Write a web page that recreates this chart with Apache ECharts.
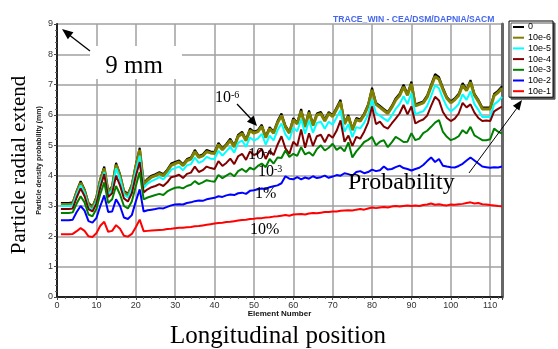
<!DOCTYPE html>
<html>
<head>
<meta charset="utf-8">
<script src="https://cdn.jsdelivr.net/npm/echarts@6/dist/echarts.min.js"></script>
<style>
html,body{margin:0;padding:0;background:#fff;}
#chart{width:558px;height:349px;}
</style>
</head>
<body>
<div id="chart"></div>
<script>
// Element numbers start at 1; one value per element (1..113)
const firstElement = 1;
const seriesNames = ['0', '10e-6', '10e-5', '10e-4', '10e-3', '10e-2', '10e-1'];
const seriesColors = ['#000000', '#808000', '#00ffff', '#800000', '#008000', '#0000ff', '#ff0000'];
const xTicks = [0, 10, 20, 30, 40, 50, 60, 70, 80, 90, 100, 110];
const yTicks = [0, 1, 2, 3, 4, 5, 6, 7, 8, 9];

const prob0 = [3.10,3.10,3.10,3.12,3.50,3.82,3.55,3.10,2.98,3.30,
 3.90,4.30,3.50,3.65,4.42,4.05,3.50,3.40,3.70,4.35,
 4.92,3.75,3.90,4.00,4.05,4.12,4.05,4.20,4.40,4.45,
 4.50,4.38,4.55,4.60,4.85,4.65,4.70,4.85,4.80,4.78,
 5.08,4.90,5.05,5.22,5.00,5.35,5.45,5.20,5.55,5.45,
 5.50,5.68,5.30,5.60,5.45,5.80,6.05,5.65,5.45,5.90,
 5.75,6.20,5.65,6.15,5.70,6.05,6.10,5.85,6.10,6.00,
 6.25,6.50,5.75,6.00,5.55,5.90,5.85,6.05,6.35,6.90,
 6.40,6.30,6.20,6.10,6.30,6.55,6.70,7.00,6.70,7.10,
 6.35,6.40,6.45,6.65,7.00,7.35,7.25,6.90,6.60,6.45,
 6.55,6.70,7.05,6.85,7.15,6.70,6.50,6.25,6.25,6.25,
 6.70,6.80,6.95];
const prob1e6 = [3.05,3.05,3.05,3.07,3.44,3.76,3.49,3.04,2.93,3.24,
 3.84,4.24,3.45,3.60,4.36,4.00,3.45,3.35,3.65,4.28,
 4.85,3.70,3.85,3.95,4.00,4.07,4.00,4.15,4.34,4.40,
 4.45,4.33,4.50,4.55,4.79,4.60,4.65,4.79,4.75,4.73,
 5.02,4.85,5.00,5.16,4.95,5.29,5.39,5.15,5.49,5.40,
 5.45,5.62,5.25,5.55,5.40,5.74,5.98,5.60,5.40,5.84,
 5.70,6.13,5.60,6.09,5.65,6.00,6.04,5.80,6.05,5.95,
 6.19,6.43,5.70,5.95,5.50,5.85,5.80,6.00,6.29,6.83,
 6.35,6.25,6.15,6.05,6.25,6.49,6.64,6.93,6.65,7.03,
 6.30,6.35,6.40,6.59,6.93,7.27,7.18,6.84,6.55,6.40,
 6.50,6.64,6.98,6.80,7.08,6.65,6.45,6.20,6.20,6.20,
 6.64,6.74,6.88];
const prob1e5 = [3.00,3.00,3.00,3.02,3.38,3.68,3.42,2.97,2.87,3.16,
 3.74,4.12,3.38,3.52,4.25,3.90,3.38,3.28,3.56,4.15,
 4.66,3.60,3.74,3.82,3.88,3.95,3.88,4.02,4.20,4.25,
 4.30,4.18,4.34,4.38,4.60,4.42,4.48,4.62,4.56,4.55,
 4.82,4.66,4.80,4.95,4.76,5.08,5.16,4.95,5.26,5.16,
 5.22,5.38,5.02,5.32,5.16,5.50,5.72,5.36,5.18,5.58,
 5.46,5.86,5.38,5.82,5.42,5.74,5.78,5.55,5.78,5.68,
 5.92,6.16,5.45,5.70,5.27,5.60,5.56,5.74,6.02,6.52,
 6.06,5.98,5.88,5.80,5.98,6.20,6.36,6.62,6.36,6.72,
 6.02,6.08,6.12,6.30,6.62,6.98,6.88,6.55,6.27,6.12,
 6.22,6.36,6.68,6.50,6.78,6.36,6.17,5.93,5.93,5.93,
 6.35,6.45,6.60];
const prob1e4 = [2.90,2.90,2.90,2.92,3.28,3.58,3.32,2.90,2.82,3.08,
 3.62,4.05,3.30,3.42,4.00,3.68,3.25,3.15,3.42,3.98,
 4.45,3.45,3.55,3.62,3.66,3.72,3.66,3.78,3.95,3.98,
 4.03,3.92,4.06,4.10,4.30,4.12,4.18,4.30,4.25,4.22,
 4.48,4.32,4.42,4.56,4.38,4.64,4.72,4.52,4.80,4.68,
 4.74,4.88,4.55,4.82,4.68,5.02,5.30,4.90,4.72,5.12,
 4.98,5.52,4.92,5.40,4.98,5.30,5.35,5.10,5.36,5.25,
 5.48,5.82,5.12,5.32,4.98,5.28,5.22,5.45,5.75,6.28,
 5.70,5.78,5.62,5.55,5.72,5.88,6.05,6.33,6.02,6.28,
 5.72,5.80,5.85,5.98,6.30,6.60,6.48,6.10,5.90,5.80,
 5.88,6.05,6.40,6.25,6.35,6.08,5.90,5.80,5.82,5.80,
 6.12,6.20,6.28];
const prob1e3 = [2.77,2.77,2.77,2.79,3.08,3.32,3.12,2.72,2.66,2.90,
 3.40,3.78,3.10,3.22,3.66,3.38,3.00,2.92,3.15,3.65,
 4.12,3.22,3.28,3.32,3.36,3.40,3.36,3.48,3.55,3.60,
 3.62,3.58,3.66,3.70,3.82,3.72,3.78,3.85,3.82,3.80,
 4.02,3.92,4.00,4.08,3.98,4.15,4.22,4.12,4.26,4.20,
 4.32,4.40,4.28,4.55,4.40,4.60,4.58,4.83,4.62,4.72,
 4.65,4.94,4.70,4.77,4.66,4.88,5.00,4.83,4.92,5.05,
 4.85,4.94,4.80,5.10,4.60,4.80,4.95,5.11,5.18,5.28,
 5.00,5.12,5.17,4.94,5.10,5.28,5.20,5.11,5.12,5.40,
 5.17,5.22,5.40,5.48,5.61,5.75,5.83,5.44,5.28,5.17,
 5.22,5.30,5.50,5.39,5.61,5.33,5.25,5.17,5.17,5.20,
 5.55,5.45,5.39];
const prob1e2 = [2.53,2.53,2.53,2.55,2.80,3.00,2.85,2.50,2.45,2.60,
 3.00,3.35,2.80,2.82,3.22,3.00,2.62,2.57,2.70,3.15,
 3.55,2.82,2.86,2.88,2.90,2.93,2.92,2.97,3.02,3.05,
 3.06,3.05,3.10,3.12,3.16,3.18,3.17,3.22,3.25,3.27,
 3.32,3.30,3.35,3.38,3.36,3.42,3.44,3.40,3.50,3.52,
 3.55,3.58,3.56,3.62,3.65,3.68,3.75,3.98,3.90,3.88,
 3.95,3.88,3.94,3.90,3.98,3.92,3.95,4.00,3.93,3.97,
 4.02,4.00,4.08,4.05,4.00,4.12,4.15,4.08,4.12,4.20,
 4.15,4.18,4.30,4.20,4.22,4.28,4.33,4.25,4.22,4.17,
 4.22,4.26,4.35,4.48,4.60,4.45,4.55,4.33,4.30,4.28,
 4.27,4.32,4.39,4.50,4.60,4.50,4.40,4.30,4.28,4.26,
 4.28,4.27,4.30];
const prob1e1 = [2.07,2.07,2.07,2.08,2.17,2.27,2.18,2.00,1.98,2.10,
 2.35,2.48,2.15,2.18,2.37,2.25,2.02,1.99,2.08,2.30,
 2.55,2.17,2.18,2.19,2.20,2.21,2.22,2.24,2.25,2.27,
 2.28,2.28,2.30,2.31,2.33,2.34,2.36,2.38,2.40,2.42,
 2.44,2.45,2.47,2.48,2.50,2.52,2.54,2.55,2.57,2.58,
 2.60,2.60,2.62,2.63,2.65,2.66,2.68,2.70,2.68,2.72,
 2.73,2.74,2.72,2.75,2.77,2.76,2.78,2.80,2.80,2.82,
 2.82,2.84,2.85,2.86,2.85,2.88,2.90,2.88,2.92,2.95,
 2.93,2.95,2.97,2.95,2.98,3.00,2.98,3.00,3.02,3.00,
 3.02,3.00,3.03,3.05,3.08,3.04,3.06,3.03,3.02,3.05,
 3.04,3.06,3.07,3.10,3.12,3.08,3.10,3.06,3.05,3.03,
 3.02,3.00,2.99];

const seriesValues = [prob0, prob1e6, prob1e5, prob1e4, prob1e3, prob1e2, prob1e1];
const lineWidths = [2, 3, 2, 2, 2, 2, 2];

const serif = '"Liberation Serif", "Times New Roman", serif';
const sans = 'Arial, "Liberation Sans", Helvetica, sans-serif';

const chart = echarts.init(document.getElementById('chart'), null, {renderer: 'canvas'});

const series = seriesNames.map((name, k) => ({
  name: name,
  type: 'line',
  data: seriesValues[k].map((v, i) => [firstElement + i, v]),
  showSymbol: false,
  symbol: 'none',
  color: seriesColors[k],
  lineStyle: {color: seriesColors[k], width: lineWidths[k]},
  emphasis: {disabled: true},
  animation: false,
  z: 3
}));

function arrowHead(tipX, tipY, fromX, fromY, len, half) {
  const dx = tipX - fromX, dy = tipY - fromY;
  const d = Math.sqrt(dx * dx + dy * dy);
  const ux = dx / d, uy = dy / d;
  const bx = tipX - ux * len, by = tipY - uy * len;
  return [[tipX, tipY], [bx - uy * half, by + ux * half], [bx + uy * half, by - ux * half]];
}

const supRich = {
  b: {fontSize: 16, fontFamily: serif, fill: '#000'},
  s: {fontSize: 10, fontFamily: serif, fill: '#000', verticalAlign: 'top'}
};

const option = {
  backgroundColor: '#ffffff',
  animation: false,
  grid: {left: 57, top: 24, right: 56, bottom: 52, containLabel: false},
  title: {
    text: 'TRACE_WIN - CEA/DSM/DAPNIA/SACM',
    left: 328, top: 10,
    textStyle: {fontSize: 8.6, fontWeight: 'bold', color: '#4466ee', fontFamily: sans}
  },
  legend: {
    data: seriesNames,
    orient: 'vertical',
    left: 509, top: 21,
    icon: 'rect',
    itemWidth: 11, itemHeight: 2,
    itemGap: 0.7,
    padding: [1, 2, 1, 4],
    backgroundColor: '#ffffff',
    borderColor: '#000000',
    borderWidth: 1,
    shadowColor: '#555555',
    shadowOffsetX: 2,
    shadowOffsetY: 2,
    shadowBlur: 0,
    selectedMode: false,
    textStyle: {fontSize: 9, color: '#000', fontFamily: sans, lineHeight: 10, padding: [0, 0, 0, -1]}
  },
  xAxis: {
    type: 'value',
    min: 0, max: 113, interval: 10,
    name: 'Element Number',
    nameLocation: 'middle',
    nameGap: 13,
    nameMoveOverlap: false,
    nameTextStyle: {fontSize: 8, fontWeight: 'bold', color: '#111', fontFamily: sans},
    axisLine: {show: true, onZero: false, lineStyle: {color: '#222', width: 2}},
    axisTick: {show: true, length: 3, lineStyle: {color: '#444'}},
    minorTick: {show: true, splitNumber: 5, length: 2, lineStyle: {color: '#666'}},
    axisLabel: {fontSize: 9, color: '#333', margin: 4, fontFamily: sans,
      formatter: function (v) { return xTicks.indexOf(v) >= 0 ? String(v) : ''; }},
    splitLine: {show: true, lineStyle: {color: '#a0a0a0', width: 1.5}}
  },
  yAxis: [{
    type: 'value',
    min: 0, max: 9, interval: 1,
    name: 'Particle density probability (mm)',
    nameLocation: 'middle',
    nameRotate: 90,
    nameGap: 14,
    nameMoveOverlap: false,
    nameTextStyle: {fontSize: 7, fontWeight: 'bold', color: '#222', fontFamily: sans},
    axisLine: {show: true, onZero: false, lineStyle: {color: '#222', width: 2}},
    axisTick: {show: true, length: 3, lineStyle: {color: '#444'}},
    minorTick: {show: true, splitNumber: 5, length: 2, lineStyle: {color: '#666'}},
    axisLabel: {fontSize: 9, color: '#333', margin: 4, fontFamily: sans,
      formatter: function (v) { return yTicks.indexOf(v) >= 0 ? String(v) : ''; }},
    splitLine: {show: true, lineStyle: {color: '#a0a0a0', width: 1.5}}
  }, {
    type: 'value',
    min: 0, max: 9, interval: 1,
    position: 'right',
    axisLine: {show: true, onZero: false, lineStyle: {color: '#666', width: 3}},
    axisTick: {show: false},
    axisLabel: {show: false},
    splitLine: {show: false}
  }],
  series: series,
  graphic: [
    {type: 'text', x: 19, y: 165, rotation: Math.PI / 2, z: 10,
      style: {text: 'Particle radial extend', font: '21px ' + serif, fill: '#000',
        textAlign: 'center', textVerticalAlign: 'middle'}},
    {type: 'text', x: 278, y: 336, z: 10,
      style: {text: 'Longitudinal position', font: '25px ' + serif, fill: '#000',
        textAlign: 'center', textVerticalAlign: 'middle'}},
    {type: 'rect', shape: {x: 90, y: 46, width: 92, height: 33}, z: 10,
      style: {fill: '#ffffff', stroke: null}},
    {type: 'text', x: 134, y: 66, z: 11,
      style: {text: '9 mm', font: '25px ' + serif, fill: '#000',
        textAlign: 'center', textVerticalAlign: 'middle'}},
    {type: 'line', shape: {x1: 90, y1: 51, x2: 68, y2: 34}, z: 11,
      style: {stroke: '#000', lineWidth: 1.3}},
    {type: 'polygon', z: 11, shape: {points: arrowHead(62, 29, 90, 51, 11, 4.5)},
      style: {fill: '#000'}},
    {type: 'text', x: 215, y: 90, z: 11,
      style: {text: '{b|10}{s|-6}', fill: '#000', rich: supRich}},
    {type: 'line', shape: {x1: 237, y1: 104, x2: 252, y2: 120}, z: 11,
      style: {stroke: '#000', lineWidth: 1.2}},
    {type: 'polygon', z: 11, shape: {points: arrowHead(257, 126, 237, 104, 10, 4.5)},
      style: {fill: '#000'}},
    {type: 'text', x: 248, y: 147, z: 11,
      style: {text: '{b|10}{s|-4}', fill: '#000', rich: supRich}},
    {type: 'text', x: 258, y: 164, z: 11,
      style: {text: '{b|10}{s|-3}', fill: '#000', rich: supRich}},
    {type: 'text', x: 255, y: 186, z: 11,
      style: {text: '1%', font: '16px ' + serif, fill: '#000'}},
    {type: 'text', x: 250, y: 222, z: 11,
      style: {text: '10%', font: '16px ' + serif, fill: '#000'}},
    {type: 'text', x: 348, y: 183, z: 11,
      style: {text: 'Probability', font: '24px ' + serif, fill: '#000',
        textAlign: 'left', textVerticalAlign: 'middle'}},
    {type: 'line', shape: {x1: 469, y1: 173, x2: 517, y2: 108}, z: 11,
      style: {stroke: '#000', lineWidth: 1}},
    {type: 'polygon', z: 11, shape: {points: arrowHead(522, 100, 469, 173, 10, 4)},
      style: {fill: '#000'}}
  ]
};

chart.setOption(option);
</script>
</body>
</html>
